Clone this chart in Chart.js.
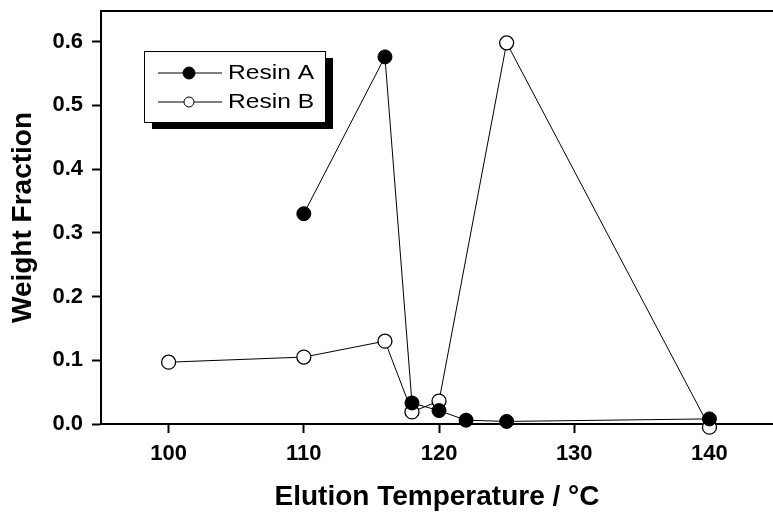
<!DOCTYPE html>
<html>
<head>
<meta charset="utf-8">
<script src="https://cdn.jsdelivr.net/npm/chart.js@4"></script>
<style>
    html, body { margin: 0; padding: 0; background: #fff; }
    #wrap { width: 773px; height: 515px; }
</style>
</head>
<body>
<div id="wrap"><canvas id="fracaoChart"></canvas></div>
<script>
// temperatura de eluição (°C) e fração mássica de cada resina
const tempResinaA = [110, 116, 118, 120, 122, 125, 140];
const fracaoResinaA = [0.330, 0.576, 0.033, 0.021, 0.006, 0.004, 0.008];

const tempResinaB = [100, 110, 116, 118, 120, 125, 140];
const fracaoResinaB = [0.097, 0.105, 0.130, 0.019, 0.036, 0.598, -0.005];

const ticksX = [100, 110, 120, 130, 140];
const ticksY = [0, 0.1, 0.2, 0.3, 0.4, 0.5, 0.6];
const nomesSeries = ['Resin A', 'Resin B'];

const pontos = (xs, ys) => xs.map((x, i) => ({ x: x, y: ys[i] }));
const fonte = '"Liberation Sans", Arial, sans-serif';

// linha superior do quadro + legenda com sombra
const quadroPlugin = {
    id: 'quadro',
    afterDraw(chart) {
        const ctx = chart.ctx;
        const area = chart.chartArea;
        ctx.save();
        ctx.strokeStyle = '#000';
        ctx.lineWidth = 2;
        ctx.beginPath();
        ctx.moveTo(area.left, area.top);
        ctx.lineTo(area.right, area.top);
        ctx.stroke();

        // caixa da legenda
        const bx = 144, by = 51, bw = 181, bh = 71;
        ctx.fillStyle = '#000';
        ctx.fillRect(bx + 8, by + 7, bw, bh);
        ctx.fillStyle = '#fff';
        ctx.fillRect(bx, by, bw, bh);
        ctx.lineWidth = 1;
        ctx.strokeRect(bx + 0.5, by + 0.5, bw, bh);

        const linhas = [73, 102];
        chart.data.datasets.forEach((ds, i) => {
            const y = linhas[i];
            ctx.strokeStyle = '#000';
            ctx.lineWidth = 1;
            ctx.beginPath();
            ctx.moveTo(158, y);
            ctx.lineTo(222, y);
            ctx.stroke();
            ctx.beginPath();
            ctx.arc(189, y, i === 0 ? 6 : 5, 0, Math.PI * 2);
            ctx.fillStyle = ds.pointBackgroundColor;
            ctx.fill();
            ctx.stroke();
            // texto um pouco esticado na horizontal
            ctx.save();
            ctx.translate(228, y);
            ctx.scale(1.17, 1);
            ctx.fillStyle = '#000';
            ctx.font = '21px ' + fonte;
            ctx.textBaseline = 'middle';
            ctx.fillText(nomesSeries[i], 0, 0);
            ctx.restore();
        });
        ctx.restore();
    }
};

const ctx = document.getElementById('fracaoChart').getContext('2d');
new Chart(ctx, {
    type: 'line',
    data: {
        datasets: [{
            label: nomesSeries[0],
            data: pontos(tempResinaA, fracaoResinaA),
            borderColor: '#000',
            borderWidth: 1,
            pointRadius: 7,
            pointBackgroundColor: '#000',
            pointBorderColor: '#000',
            pointBorderWidth: 1,
            tension: 0,
            clip: false
        }, {
            label: nomesSeries[1],
            data: pontos(tempResinaB, fracaoResinaB),
            borderColor: '#000',
            borderWidth: 1,
            pointRadius: 7,
            pointBackgroundColor: '#fff',
            pointBorderColor: '#000',
            pointBorderWidth: 1.3,
            tension: 0,
            clip: false
        }]
    },
    options: {
        responsive: true,
        maintainAspectRatio: false,
        animation: false,
        layout: { autoPadding: false, padding: { top: 11, left: 0, right: 0, bottom: 0 } },
        plugins: {
            legend: { display: false },
            tooltip: { enabled: false }
        },
        scales: {
            x: {
                type: 'linear',
                min: 95,
                max: 144.7,
                afterBuildTicks: function(scale) {
                    scale.ticks = ticksX.map(v => ({ value: v }));
                },
                afterFit: function(scale) {
                    scale.height = 91;
                    scale.paddingLeft = 0;
                    scale.paddingRight = 0;
                },
                border: { color: '#000', width: 2 },
                grid: { drawOnChartArea: false, drawTicks: true, tickLength: 9, tickColor: '#000', tickWidth: 2 },
                ticks: {
                    color: '#000',
                    padding: 8,
                    font: { family: fonte, size: 22, weight: 'bold' }
                },
                title: {
                    display: true,
                    text: 'Elution Temperature / °C',
                    color: '#000',
                    padding: { top: 1, bottom: 1 },
                    font: { family: fonte, size: 28, weight: 'bold' }
                }
            },
            y: {
                min: 0,
                max: 0.648,
                afterBuildTicks: function(scale) {
                    scale.ticks = ticksY.map(v => ({ value: v }));
                },
                afterFit: function(scale) {
                    scale.width = 101;
                    scale.paddingTop = 0;
                    scale.paddingBottom = 0;
                },
                border: { color: '#000', width: 2 },
                grid: { drawOnChartArea: false, drawTicks: true, tickLength: 9, tickColor: '#000', tickWidth: 2 },
                ticks: {
                    color: '#000',
                    padding: 9,
                    callback: function(value) { return value.toFixed(1); },
                    font: { family: fonte, size: 22, weight: 'bold' }
                },
                title: {
                    display: true,
                    text: 'Weight Fraction',
                    color: '#000',
                    padding: { top: 6, bottom: 2 },
                    font: { family: fonte, size: 28, weight: 'bold' }
                }
            }
        }
    },
    plugins: [quadroPlugin]
});
</script>
</body>
</html>
